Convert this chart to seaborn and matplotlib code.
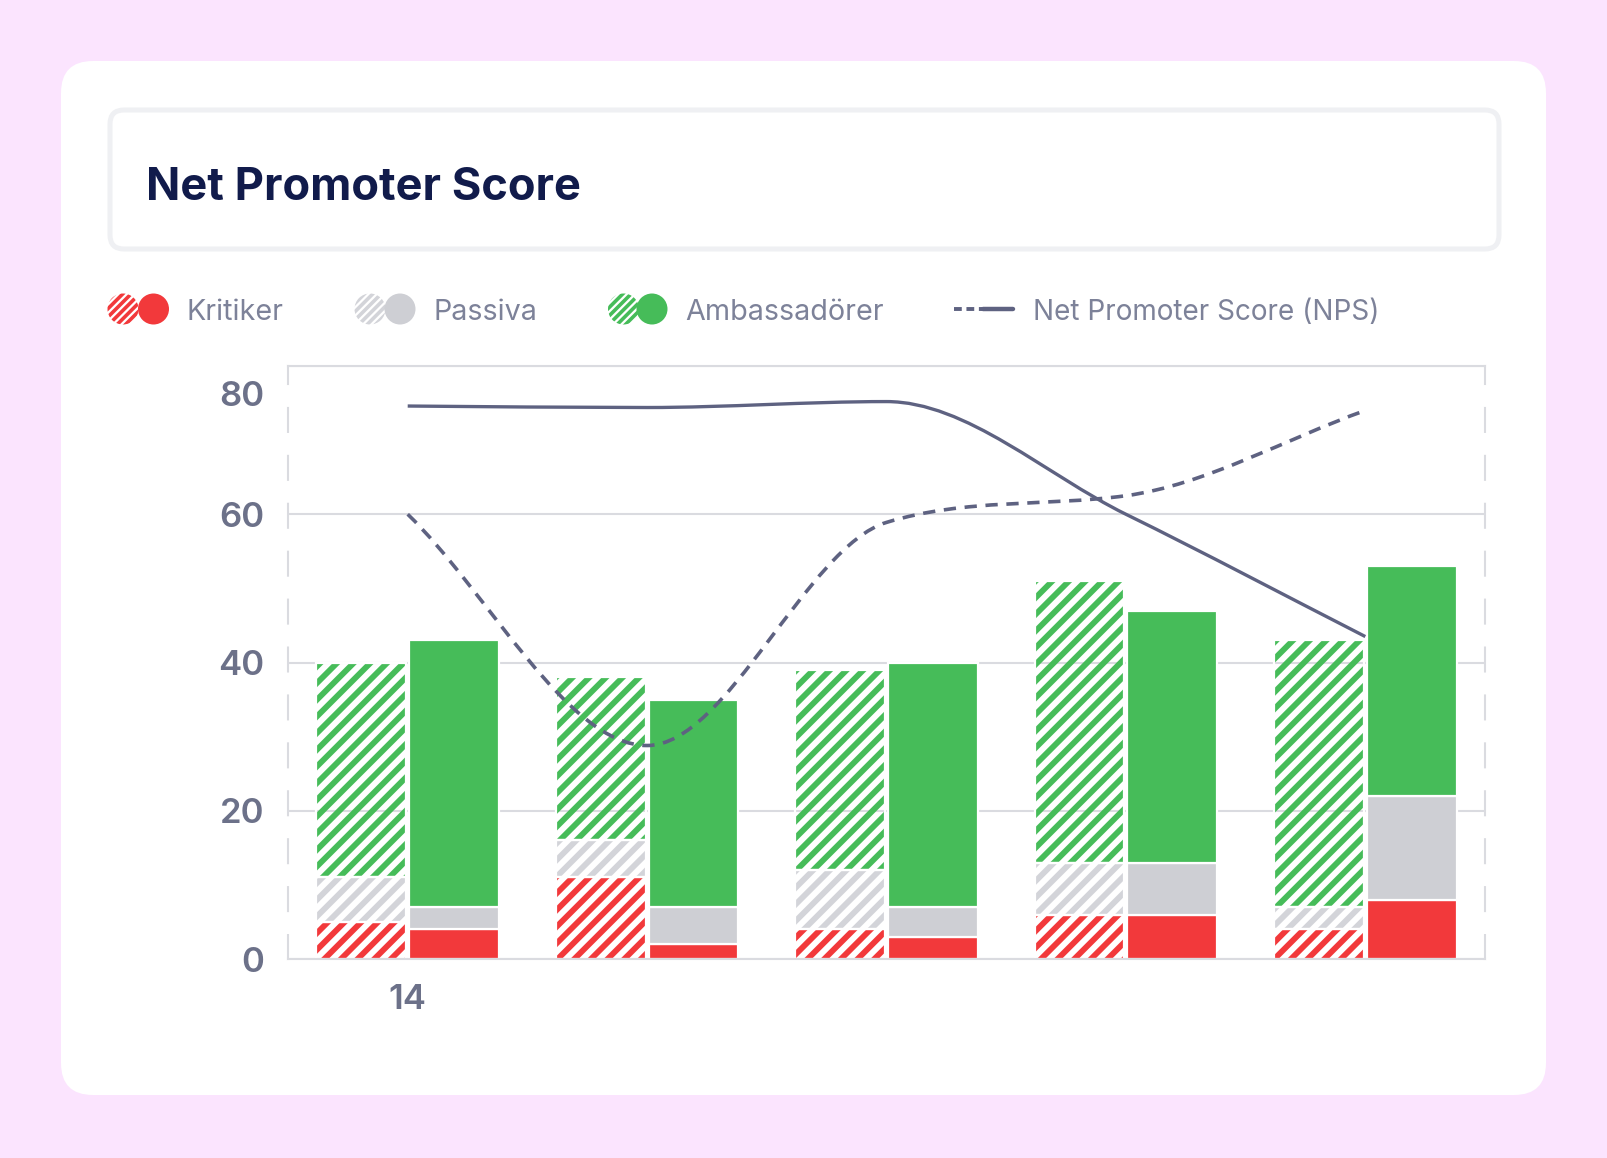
import numpy as np
import pandas as pd
import matplotlib
matplotlib.use("Agg")
import matplotlib.pyplot as plt
import seaborn as sns
from matplotlib.patches import FancyBboxPatch, Circle, PathPatch
from matplotlib.path import Path
from matplotlib.transforms import IdentityTransform, ScaledTranslation
from matplotlib.lines import Line2D

# ---------------- data ----------------
groups = [0, 1, 2, 3, 4]
x_labels = ["14", "", "", "", ""]
prev_kritiker = [5, 11, 4, 6, 4]
prev_passiva = [6, 5, 8, 7, 3]
prev_ambassador = [29, 22, 27, 38, 36]
curr_kritiker = [4, 2, 3, 6, 8]
curr_passiva = [3, 5, 4, 7, 14]
curr_ambassador = [36, 28, 33, 34, 31]
nps_prev = [60.0, 28.8, 58.9, 62.5, 74.0]     # dashed line
nps_curr = [74.6, 74.4, 75.2, 60.0, 43.5]     # solid line
y_ticks = [0, 20, 40, 60, 80]
legend_labels = ["Kritiker", "Passiva", "Ambassadörer", "Net Promoter Score (NPS)"]
title_text = "Net Promoter Score"

# ---------------- style ----------------
RED = "#F2393B"
GRAY = "#CECFD4"
GRAY_H = "#D3D4D9"
GREEN = "#46BC59"
LINE = "#5E6281"
GRID = "#DADBE0"
TICK = "#6C7189"
LEG = "#7D8299"
NAVY = "#111B4B"
PINK = "#FBE4FE"

sns.set_theme(style="white")
plt.rcParams["font.family"] = ["Inter", "DejaVu Sans"]
plt.rcParams["hatch.linewidth"] = 4.2

W, H = 1608, 1158
fig = plt.figure(figsize=(W / 100, H / 100), dpi=100)
fig.patch.set_facecolor(PINK)

# card and title box (pixel coords)
card = FancyBboxPatch((61, 63), 1485, 1034, boxstyle="round,pad=0,rounding_size=32",
                      transform=IdentityTransform(), facecolor="white", edgecolor="none", zorder=0)
fig.add_artist(card)
tbox = FancyBboxPatch((110, 909), 1389, 139, boxstyle="round,pad=0,rounding_size=14",
                      transform=IdentityTransform(), facecolor="white", edgecolor="#EFF0F3",
                      linewidth=3.6, zorder=1)
fig.add_artist(tbox)
fig.text(146 / W, (H - 200) / H, title_text, fontsize=32.5, fontweight="bold", color=NAVY,
         ha="left", va="baseline")

# ---------------- axes ----------------
ax = fig.add_axes([288 / W, (H - 959) / H, 1197 / W, 593 / H])
ax.set_facecolor("none")

bar_w = 0.375
off = 0.194
x_prev = [g - off for g in groups]
x_curr = [g + off for g in groups]


def stacked(xpos, segments, colors, hatched):
    bottom = np.zeros(len(xpos))
    for vals, col in zip(segments, colors):
        df = pd.DataFrame({"x": xpos, "y": vals})
        if hatched:
            sns.barplot(data=df, x="x", y="y", native_scale=True, orient="x", width=bar_w,
                        errorbar=None, color=col, saturation=1, facecolor="none",
                        edgecolor=col, linewidth=0, hatch="//", bottom=bottom.copy(),
                        ax=ax, zorder=2)
            sns.barplot(data=df, x="x", y="y", native_scale=True, orient="x", width=bar_w,
                        errorbar=None, color="white", saturation=1, fill=False,
                        linewidth=1.6, bottom=bottom.copy(), ax=ax, zorder=2.1)
        else:
            sns.barplot(data=df, x="x", y="y", native_scale=True, orient="x", width=bar_w,
                        errorbar=None, color=col, saturation=1, edgecolor="white",
                        linewidth=1.6, bottom=bottom.copy(), ax=ax, zorder=2)
        bottom = bottom + np.asarray(vals, float)


stacked(x_prev, [prev_kritiker, prev_passiva, prev_ambassador], [RED, GRAY_H, GREEN], True)
stacked(x_curr, [curr_kritiker, curr_passiva, curr_ambassador], [RED, GRAY, GREEN], False)


def monotone_path(xs, ys):
    xs = np.asarray(xs, float)
    ys = np.asarray(ys, float)
    n = len(xs)
    d = np.diff(ys) / np.diff(xs)
    m = np.zeros(n)
    m[0], m[-1] = d[0], d[-1]
    for k in range(1, n - 1):
        m[k] = 0.0 if d[k - 1] * d[k] <= 0 else (d[k - 1] + d[k]) / 2
    for k in range(n - 1):
        if d[k] == 0:
            m[k] = m[k + 1] = 0.0
            continue
        a, b = m[k] / d[k], m[k + 1] / d[k]
        t = a * a + b * b
        if t > 9:
            s = 3 / np.sqrt(t)
            m[k], m[k + 1] = s * a * d[k], s * b * d[k]
    verts = [(xs[0], ys[0])]
    codes = [Path.MOVETO]
    for k in range(n - 1):
        h = (xs[k + 1] - xs[k]) / 3
        verts += [(xs[k] + h, ys[k] + m[k] * h), (xs[k + 1] - h, ys[k + 1] - m[k + 1] * h),
                  (xs[k + 1], ys[k + 1])]
        codes += [Path.CURVE4] * 3
    return Path(verts, codes)


ax.add_patch(PathPatch(monotone_path(groups, nps_curr), facecolor="none", edgecolor=LINE,
                       linewidth=2.4, zorder=4, capstyle="butt"))
ax.add_patch(PathPatch(monotone_path(groups, nps_prev), facecolor="none", edgecolor=LINE,
                       linewidth=2.6, linestyle=(0, (3.4, 2.4)), zorder=4, capstyle="butt"))

ax.set_xlim(-0.5, 4.5)
ax.set_ylim(0, 80)
ax.set_xticks(groups)
ax.set_xticklabels(x_labels)
ax.set_yticks(y_ticks)
ax.set_yticklabels([str(v) for v in y_ticks])
ax.set_xlabel("")
ax.set_ylabel("")
ax.yaxis.grid(True, color=GRID, linewidth=1.5)
ax.xaxis.grid(False)
ax.set_axisbelow(True)
for s in ["left", "right"]:
    ax.spines[s].set_visible(True)
    ax.spines[s].set_color(GRID)
    ax.spines[s].set_linewidth(1.5)
    ax.spines[s].set_linestyle((0, (11.5, 11.5)))
for s in ["top", "bottom"]:
    ax.spines[s].set_visible(True)
    ax.spines[s].set_color(GRID)
    ax.spines[s].set_linewidth(1.5)
ax.tick_params(axis="both", length=0, labelsize=25, labelcolor=TICK)
ax.tick_params(axis="y", pad=17)
ax.tick_params(axis="x", pad=18)
for lab in ax.get_yticklabels() + ax.get_xticklabels():
    lab.set_fontweight("semibold")
# top tick label sits lower (as in reference)
top_lab = ax.get_yticklabels()[-1]
top_lab.set_transform(top_lab.get_transform() + ScaledTranslation(0, -0.27, fig.dpi_scale_trans))

# ---------------- legend (pixel coords) ----------------
ly = H - 309
items = [(123, 153.5, RED, RED, 187), (370, 400, GRAY_H, GRAY, 434), (623.5, 652, GREEN, GREEN, 685)]
for (hx, sx, hc, sc, tx), lab in zip(items, legend_labels[:3]):
    c1 = Circle((hx, ly), 15.5, transform=IdentityTransform(), facecolor="white",
                edgecolor=hc, linewidth=0, hatch="////", zorder=5)
    if hasattr(c1, "set_hatch_linewidth"):
        c1.set_hatch_linewidth(2.6)
    fig.add_artist(c1)
    fig.add_artist(Circle((sx, ly), 15.5, transform=IdentityTransform(), facecolor=sc,
                          edgecolor="none", zorder=6))
    fig.text(tx / W, (H - 320) / H, lab, fontsize=20.7, color=LEG, ha="left", va="baseline")

fig.add_artist(Line2D([954, 982], [ly, ly], transform=IdentityTransform(), color=LINE,
                      linewidth=2.8, linestyle=(0, (2.0, 1.2))))
fig.add_artist(Line2D([983, 1013], [ly, ly], transform=IdentityTransform(), color=LINE,
                      linewidth=3.2, solid_capstyle="round"))
fig.text(1033 / W, (H - 320) / H, legend_labels[3], fontsize=20.1, color=LEG, ha="left",
         va="baseline")

fig.savefig("out.png", dpi=100, facecolor=fig.get_facecolor())
